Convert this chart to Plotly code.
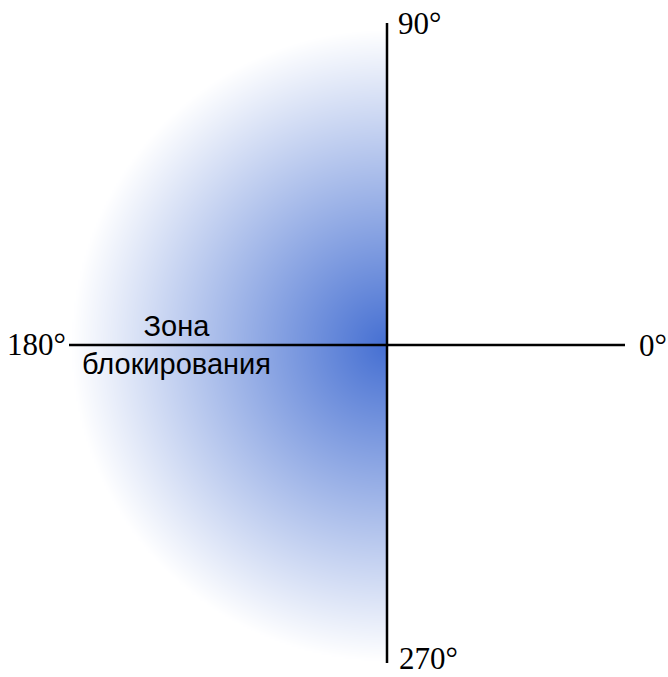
import numpy as np
import plotly.graph_objects as go

# ---- data (pixel units relative to the origin, y up) ----
zone_radius = 316                     # radius of the blocking zone
gradient_colors = ["#456fd2", "#ffffff"]  # centre -> edge
axis_ends_x = [-318, 238]             # horizontal axis line extents
axis_ends_y = [-318, 322]             # vertical axis line extents
angle_labels = ["0°", "90°", "180°", "270°"]
zone_label = "Зона<br>блокирования"

W, H = 668, 677
cx, cy = 387, 345

# radial gradient field over the left half-disc
step = 2
xs = np.arange(-zone_radius, 1 + step, step)
ys = np.arange(-zone_radius, zone_radius + step, step)
X, Y = np.meshgrid(xs, ys)
Rr = np.sqrt(X**2 + Y**2) / zone_radius
Z = np.where((Rr <= 1.0) & (X <= 0.5), Rr, np.nan)

fig = go.Figure()
fig.add_trace(go.Heatmap(
    x=xs, y=ys, z=Z, zmin=0, zmax=1,
    colorscale=[[0, gradient_colors[0]], [1, gradient_colors[1]]],
    showscale=False, hoverinfo="skip", zsmooth="best",
))
fig.add_trace(go.Scatter(x=axis_ends_x, y=[0, 0], mode="lines",
                         line=dict(color="black", width=2.5), hoverinfo="skip"))
fig.add_trace(go.Scatter(x=[0, 0], y=axis_ends_y, mode="lines",
                         line=dict(color="black", width=2.5), hoverinfo="skip"))

serif = dict(family="Liberation Serif, Times New Roman, serif", size=31, color="black")
fig.add_annotation(x=axis_ends_x[1] + 12, y=0, text=angle_labels[0], showarrow=False,
                   xanchor="left", yanchor="middle", font=serif)
fig.add_annotation(x=9, y=322, text=angle_labels[1], showarrow=False,
                   xanchor="left", yanchor="middle", font=serif)
fig.add_annotation(x=axis_ends_x[0] - 1, y=1, text=angle_labels[2], showarrow=False,
                   xanchor="right", yanchor="middle", font=serif)
fig.add_annotation(x=10, y=-313, text=angle_labels[3], showarrow=False,
                   xanchor="left", yanchor="middle", font=serif)
fig.add_annotation(x=-211, y=0, text=zone_label, showarrow=False,
                   xanchor="center", yanchor="middle",
                   font=dict(family="Liberation Sans, Arial, sans-serif", size=29, color="black"))

fig.update_layout(
    width=W, height=H, margin=dict(l=0, r=0, t=0, b=0),
    paper_bgcolor="white", plot_bgcolor="white", showlegend=False,
    xaxis=dict(range=[-cx, W - cx], visible=False, fixedrange=True),
    yaxis=dict(range=[-(H - cy), cy], visible=False, fixedrange=True),
)
fig.write_html("out.html", config={"displayModeBar": False},
               post_script="document.body.style.margin='0';document.body.style.overflow='hidden';")
